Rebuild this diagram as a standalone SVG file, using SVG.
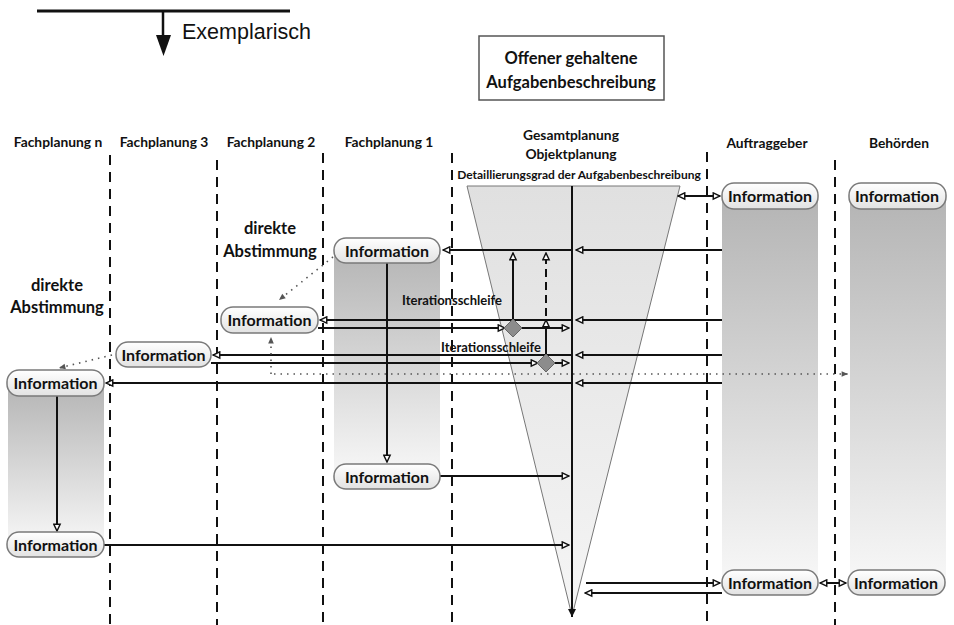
<svg xmlns="http://www.w3.org/2000/svg" width="954" height="625" viewBox="0 0 954 625">
<defs>
<style>
.hdr{font-family:Lato,"Open Sans","DejaVu Sans",sans-serif;font-weight:700;font-size:13.8px;fill:#111;text-anchor:middle}
.lbl{font-family:Lato,"Open Sans","DejaVu Sans",sans-serif;font-weight:700;fill:#111;text-anchor:middle}
.info rect{fill:url(#nodeG);stroke:#7a7a7a;stroke-width:1.5}
.info text{font-family:Lato,"Open Sans","DejaVu Sans",sans-serif;font-weight:700;font-size:16px;fill:#111;text-anchor:middle}
.lane{stroke:#111;stroke-width:2;stroke-dasharray:10 7;fill:none}
.c{stroke:#111;stroke-width:2;fill:none;marker-end:url(#open)}
.cn{stroke:#111;stroke-width:2;fill:none}
.dot{stroke:#555;stroke-width:1.6;stroke-dasharray:1.5 5;fill:none;marker-end:url(#dotA)}
.dia{fill:#8c8c8c;stroke:#666;stroke-width:1}
</style>
<linearGradient id="nodeG" x1="0" y1="0" x2="0" y2="1"><stop offset="0" stop-color="#ffffff"/><stop offset="1" stop-color="#e2e2e2"/></linearGradient>
<linearGradient id="colG" x1="0" y1="0" x2="0" y2="1"><stop offset="0" stop-color="#b5b5b5"/><stop offset="1" stop-color="#f7f7f7"/></linearGradient>
<linearGradient id="funG" x1="0" y1="0" x2="0" y2="1"><stop offset="0" stop-color="#e0e0e0"/><stop offset="1" stop-color="#f5f5f5"/></linearGradient>
<marker id="open" viewBox="0 0 10 10" refX="9" refY="5" markerUnits="userSpaceOnUse" markerWidth="9" markerHeight="9" orient="auto-start-reverse"><path d="M1.5,1.5 L9,5 L1.5,8.5 z" fill="#fff" stroke="#111" stroke-width="1.6"/></marker>
<marker id="fill" viewBox="0 0 10 10" refX="9" refY="5" markerUnits="userSpaceOnUse" markerWidth="10" markerHeight="10" orient="auto-start-reverse"><path d="M1,1 L9,5 L1,9 z" fill="#111"/></marker>
<marker id="dotA" viewBox="0 0 10 10" refX="9" refY="5" markerUnits="userSpaceOnUse" markerWidth="8" markerHeight="8" orient="auto"><path d="M1,1.5 L9,5 L1,8.5 z" fill="#555"/></marker>
</defs>
<rect width="954" height="625" fill="#fff"/>

<g id="legend">
<line x1="37" y1="11" x2="290" y2="11" stroke="#111" stroke-width="3"/>
<line x1="163" y1="11" x2="163" y2="35" stroke="#111" stroke-width="2.5"/>
<path d="M156,35 L171,35 L163.5,56 z" fill="#111"/>
<text x="182" y="39" style="font-family:'Liberation Sans',Arial,sans-serif;font-size:21.5px;fill:#111">Exemplarisch</text>
</g>

<g id="offener">
<rect x="479" y="36" width="185" height="64" fill="#fff" stroke="#555" stroke-width="1.5"/>
<text class="lbl" x="571" y="64" font-size="16.5">Offener gehaltene</text>
<text class="lbl" x="571" y="88" font-size="16.5">Aufgabenbeschreibung</text>
</g>

<g id="headers">
<text class="hdr" x="58" y="147">Fachplanung n</text>
<text class="hdr" x="164" y="147">Fachplanung 3</text>
<text class="hdr" x="271" y="147">Fachplanung 2</text>
<text class="hdr" x="389" y="147">Fachplanung 1</text>
<text class="hdr" x="571" y="140">Gesamtplanung</text>
<text class="hdr" x="571" y="159">Objektplanung</text>
<text class="hdr" x="767" y="148">Auftraggeber</text>
<text class="hdr" x="899" y="148">Behörden</text>
</g>

<g id="columns">
<rect x="722" y="200" width="96" height="380" fill="url(#colG)"/>
<rect x="850" y="200" width="96" height="380" fill="url(#colG)"/>
<rect x="334" y="250" width="106" height="225" fill="url(#colG)"/>
<rect x="8" y="385" width="96" height="160" fill="url(#colG)"/>
</g>

<g id="funnel">
<polygon points="467,186 680,186 572,616" fill="url(#funG)" stroke="#777" stroke-width="1"/>
<text class="lbl" x="579" y="179" font-size="12">Detaillierungsgrad der Aufgabenbeschreibung</text>
</g>

<g id="lanes">
<line class="lane" x1="110" y1="155" x2="110" y2="625"/>
<line class="lane" x1="217" y1="160" x2="217" y2="625"/>
<line class="lane" x1="323" y1="153" x2="323" y2="625"/>
<line class="lane" x1="452" y1="153" x2="452" y2="625"/>
<line class="lane" x1="707" y1="152" x2="707" y2="625"/>
<line class="lane" x1="835" y1="160" x2="835" y2="625"/>
</g>

<g id="texts">
<text class="lbl" x="270" y="234" font-size="16.5">direkte</text>
<text class="lbl" x="270" y="257" font-size="16.5">Abstimmung</text>
<text class="lbl" x="57" y="291" font-size="16.5">direkte</text>
<text class="lbl" x="57" y="313" font-size="16.5">Abstimmung</text>
<text class="lbl" x="452" y="305" font-size="13">Iterationsschleife</text>
<text class="lbl" x="491" y="352" font-size="13">Iterationsschleife</text>
</g>

<g id="connectors">
<line class="cn" x1="572" y1="186" x2="572" y2="617" style="marker-end:url(#fill)"/>
<line class="c" x1="678" y1="196" x2="720" y2="196" style="marker-start:url(#open)"/>
<line class="c" x1="722" y1="250" x2="576" y2="250"/>
<line class="c" x1="572" y1="250" x2="443" y2="250"/>
<line class="c" x1="722" y1="320" x2="576" y2="320"/>
<line class="c" x1="572" y1="320" x2="320" y2="320"/>
<line class="c" x1="318" y1="328" x2="505" y2="328"/>
<line class="c" x1="521" y1="328" x2="569" y2="328"/>
<line class="c" x1="513" y1="320" x2="513" y2="253"/>
<line class="c" x1="722" y1="355" x2="576" y2="355"/>
<line class="c" x1="572" y1="355" x2="213" y2="355"/>
<line class="c" x1="211" y1="363" x2="538" y2="363"/>
<line class="c" x1="554" y1="363" x2="569" y2="363"/>
<line class="c" x1="546" y1="355" x2="546" y2="320"/>
<line class="c" x1="546" y1="316" x2="546" y2="253" style="stroke-dasharray:8 5"/>
<line class="c" x1="722" y1="383" x2="576" y2="383"/>
<line class="c" x1="572" y1="383" x2="106" y2="383"/>
<line class="c" x1="387" y1="263" x2="387" y2="462"/>
<line class="c" x1="57" y1="396" x2="57" y2="531"/>
<line class="c" x1="440" y1="476" x2="569" y2="476"/>
<line class="c" x1="104" y1="545" x2="569" y2="545"/>
<line class="c" x1="586" y1="583" x2="720" y2="583"/>
<line class="c" x1="722" y1="593" x2="585" y2="593"/>
<line class="c" x1="820" y1="583" x2="846" y2="583" style="marker-start:url(#open)"/>
<line class="dot" x1="333" y1="257" x2="279" y2="300"/>
<line class="dot" x1="271" y1="374" x2="271" y2="337"/>
<line class="dot" x1="274" y1="374" x2="848" y2="374"/>
<line class="dot" x1="112" y1="355" x2="59" y2="368"/>
<polygon class="dia" points="513,319 522,328 513,337 504,328"/>
<polygon class="dia" points="546,354 555,363 546,372 537,363"/>
</g>

<g id="n_auf_top" class="info"><rect x="722" y="183" width="96" height="26" rx="12"/><text x="770" y="201.5">Information</text></g>
<g id="n_beh_top" class="info"><rect x="849" y="183" width="97" height="26" rx="12"/><text x="897" y="201.5">Information</text></g>
<g id="n_fp1_top" class="info"><rect x="334" y="238" width="106" height="25" rx="12"/><text x="387" y="256.5">Information</text></g>
<g id="n_fp2" class="info"><rect x="221" y="307" width="97" height="26" rx="12"/><text x="269.5" y="325.5">Information</text></g>
<g id="n_fp3" class="info"><rect x="116" y="342" width="95" height="25" rx="12"/><text x="163.5" y="360.5">Information</text></g>
<g id="n_fpn_top" class="info"><rect x="7" y="370" width="97" height="26" rx="12"/><text x="55.5" y="388.5">Information</text></g>
<g id="n_fp1_bot" class="info"><rect x="334" y="464" width="106" height="25" rx="12"/><text x="387" y="482.5">Information</text></g>
<g id="n_fpn_bot" class="info"><rect x="7" y="532" width="97" height="25" rx="12"/><text x="55.5" y="550.5">Information</text></g>
<g id="n_auf_bot" class="info"><rect x="722" y="570" width="96" height="25" rx="12"/><text x="770" y="588.5">Information</text></g>
<g id="n_beh_bot" class="info"><rect x="848" y="570" width="97" height="25" rx="12"/><text x="896" y="588.5">Information</text></g>
</svg>
